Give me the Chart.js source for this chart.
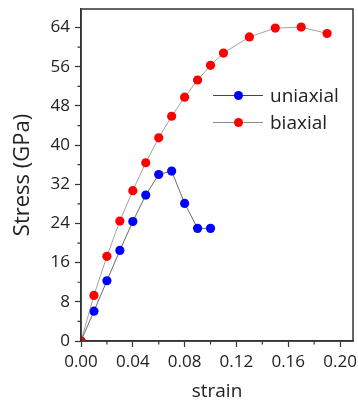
<!DOCTYPE html>
<html>
<head>
<meta charset="utf-8">
<script src="https://cdn.jsdelivr.net/npm/chart.js@4.4.1/dist/chart.umd.min.js"></script>
<style>
  html, body { margin: 0; padding: 0; background: #fff; }
  #wrap { width: 358px; height: 403px; }
</style>
</head>
<body>
<div id="wrap"><canvas id="grafico" width="358" height="403"></canvas></div>
<script>
// dados
const strainUni = [0, 0.01, 0.02, 0.03, 0.04, 0.05, 0.06, 0.07, 0.08, 0.09, 0.10];
const stressUni = [0, 6.1, 12.3, 18.5, 24.4, 29.8, 34.0, 34.7, 28.1, 23.0, 23.0];

const strainBi = [0, 0.01, 0.02, 0.03, 0.04, 0.05, 0.06, 0.07, 0.08, 0.09, 0.10, 0.11, 0.13, 0.15, 0.17, 0.19];
const stressBi = [0, 9.3, 17.3, 24.5, 30.7, 36.4, 41.5, 45.9, 49.8, 53.3, 56.3, 58.8, 62.1, 63.9, 64.1, 62.8];

const xMajor = [0, 0.04, 0.08, 0.12, 0.16, 0.20];
const xMinor = [0.02, 0.06, 0.10, 0.14, 0.18];
const yMajor = [0, 8, 16, 24, 32, 40, 48, 56, 64];
const yMinor = [4, 12, 20, 28, 36, 44, 52, 60];

const corEixo = '#333';
const fonte = "'Open Sans', 'DejaVu Sans', sans-serif";

function pares(xs, ys) {
    return xs.map((x, i) => ({ x: x, y: ys[i] }));
}

// moldura, ticks menores e legenda
const extras = {
    id: 'extras',
    afterDraw(chart) {
        const ctx = chart.ctx;
        const a = chart.chartArea;
        const sx = chart.scales.x;
        const sy = chart.scales.y;
        ctx.save();
        ctx.strokeStyle = corEixo;
        ctx.lineWidth = 1.5;
        ctx.strokeRect(a.left, a.top, a.right - a.left, a.bottom - a.top);

        ctx.lineWidth = 1.2;
        ctx.beginPath();
        xMinor.forEach(v => {
            const px = sx.getPixelForValue(v);
            ctx.moveTo(px, a.bottom);
            ctx.lineTo(px, a.bottom + 3.5);
        });
        yMinor.forEach(v => {
            const py = sy.getPixelForValue(v);
            ctx.moveTo(a.left, py);
            ctx.lineTo(a.left - 3.5, py);
        });
        ctx.stroke();

        // legenda
        const ordem = [1, 0];
        const legX = 213;
        let legY = 95.5;
        ctx.font = "19px " + fonte;
        ctx.textBaseline = 'middle';
        ordem.forEach(i => {
            const ds = chart.data.datasets[i];
            ctx.strokeStyle = ds.borderColor;
            ctx.lineWidth = 1;
            ctx.beginPath();
            ctx.moveTo(legX, legY);
            ctx.lineTo(legX + 50, legY);
            ctx.stroke();
            ctx.fillStyle = ds.pointBackgroundColor;
            ctx.beginPath();
            ctx.arc(legX + 25.5, legY, 4.5, 0, Math.PI * 2);
            ctx.fill();
            ctx.fillStyle = '#222';
            ctx.fillText(ds.label, legX + 57, legY + 1);
            legY += 27;
        });
        ctx.restore();
    }
};

const ctx = document.getElementById('grafico').getContext('2d');
const myChart = new Chart(ctx, {
    type: 'scatter',
    data: {
        datasets: [
            {
                label: 'biaxial',
                data: pares(strainBi, stressBi),
                showLine: true,
                borderColor: '#8a8a8a',
                borderWidth: 0.8,
                pointBackgroundColor: '#ff0000',
                pointBorderWidth: 0,
                pointRadius: 4.6,
                order: 0
            },
            {
                label: 'uniaxial',
                data: pares(strainUni, stressUni),
                showLine: true,
                borderColor: '#444',
                borderWidth: 0.8,
                pointBackgroundColor: '#0000ff',
                pointBorderWidth: 0,
                pointRadius: 4.6,
                order: 1
            }
        ]
    },
    options: {
        responsive: false,
        animation: false,
        events: [],
        layout: { padding: { top: 9, right: 5, left: 0, bottom: 0 } },
        plugins: {
            legend: { display: false },
            tooltip: { enabled: false }
        },
        scales: {
            x: {
                type: 'linear',
                min: 0,
                max: 0.21,
                afterFit(s) {
                    s.height = 62;
                    s.paddingLeft = 0;
                    s.paddingRight = 0;
                },
                afterBuildTicks(s) {
                    s.ticks = xMajor.map(v => ({ value: v }));
                },
                border: { color: corEixo, width: 1.5 },
                grid: { drawOnChartArea: false, drawTicks: true, tickLength: 6, tickWidth: 1.2, tickColor: corEixo },
                ticks: {
                    padding: 5,
                    maxRotation: 0,
                    color: '#222',
                    font: { family: fonte, size: 17 },
                    callback: v => v.toFixed(2)
                },
                title: {
                    display: true,
                    text: 'strain',
                    color: '#222',
                    font: { family: fonte, size: 19 },
                    padding: { top: 4, bottom: 0 }
                }
            },
            y: {
                type: 'linear',
                min: 0,
                max: 67.8,
                afterFit(s) {
                    s.width = 81;
                    s.paddingTop = 0;
                    s.paddingBottom = 0;
                },
                afterBuildTicks(s) {
                    s.ticks = yMajor.map(v => ({ value: v }));
                },
                border: { color: corEixo, width: 1.5 },
                grid: { drawOnChartArea: false, drawTicks: true, tickLength: 6, tickWidth: 1.2, tickColor: corEixo },
                ticks: {
                    padding: 5,
                    color: '#222',
                    font: { family: fonte, size: 17 },
                    callback: v => String(v)
                },
                title: {
                    display: true,
                    text: 'Stress (GPa)',
                    color: '#222',
                    font: { family: fonte, size: 22 },
                    padding: { top: 10, bottom: 0 }
                }
            }
        }
    },
    plugins: [extras]
});
</script>
</body>
</html>
